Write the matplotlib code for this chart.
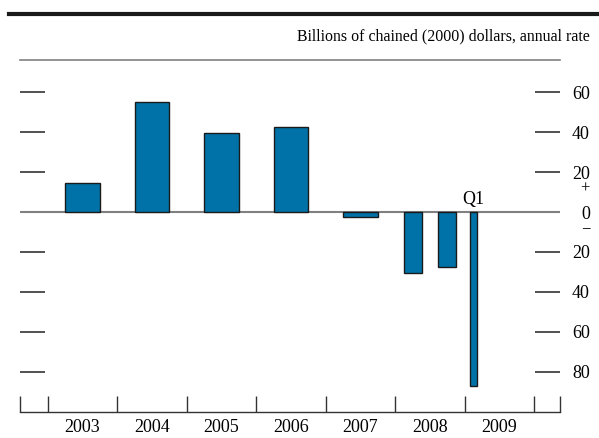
import matplotlib.pyplot as plt
from matplotlib.ticker import FixedLocator

plt.rcParams["font.family"] = ["Liberation Serif", "DejaVu Serif"]

years = ["2003", "2004", "2005", "2006", "2007", "2008", "2009"]
# annual bars (2003-2007)
annual_pos = [0.5, 1.5, 2.5, 3.5, 4.5]
annual_vals = [14.5, 55.0, 39.5, 42.5, -2.5]
# 2008 half-years
half_pos = [5.25, 5.75]
half_vals = [-30.5, -27.5]
# 2009 Q1
q_pos = [6.125]
q_vals = [-87.0]

yticks = [-80, -60, -40, -20, 0, 20, 40, 60]
ytick_labels = ["80", "60", "40", "20", "0", "20", "40", "60"]

bar_color = "#0072a8"
edge_color = "#1a1a1a"

fig = plt.figure(figsize=(5.99, 4.38), dpi=100)
ax = fig.add_axes([20 / 599, 26 / 438, 540 / 599, 352 / 438])

ax.bar(annual_pos, annual_vals, width=0.5, color=bar_color, edgecolor=edge_color, linewidth=1, zorder=3)
ax.bar(half_pos, half_vals, width=0.26, color=bar_color, edgecolor=edge_color, linewidth=1, zorder=3)
ax.bar(q_pos, q_vals, width=0.1, color=bar_color, edgecolor=edge_color, linewidth=1, zorder=3)

ax.axhline(0, color="#808080", linewidth=1.5, zorder=2)
ax.text(q_pos[0], 2, "Q1", ha="center", va="bottom", fontsize=13)

ax.set_xlim(-0.4, 7.37)
ax.set_ylim(-100, 76)

# spines
for s in ["left", "right"]:
    ax.spines[s].set_visible(False)
ax.spines["top"].set_color("#808080")
ax.spines["top"].set_linewidth(1.2)
ax.spines["bottom"].set_color("#333333")
ax.spines["bottom"].set_linewidth(1.0)

# x ticks: year boundaries, labels centered
ax.xaxis.set_major_locator(FixedLocator([-0.4, 0, 1, 2, 3, 4, 5, 6, 7, 7.37]))
ax.xaxis.set_minor_locator(FixedLocator([i + 0.5 for i in range(len(years))]))
ax.set_xticklabels([""] * 10)
ax.set_xticklabels(years, minor=True)
ax.tick_params(axis="x", which="major", direction="in", length=11.5, width=1, color="#333333")
ax.tick_params(axis="x", which="minor", length=0, pad=5, labelsize=13)

# y ticks: dashes both sides, labels on right
ax.set_yticks(yticks)
ax.set_yticklabels(ytick_labels)
ax.tick_params(axis="y", direction="in", length=18, width=1.2, color="#333333",
               left=True, right=True, labelleft=False, labelright=True, pad=21.6, labelsize=13)
for lab in ax.get_yticklabels():
    lab.set_ha("right")

# sign markers around zero
ax.text(1.0 + 30 / 540, 11.5, "+", transform=ax.get_yaxis_transform(), ha="right", va="center", fontsize=12)
ax.text(1.0 + 30 / 540, -8.5, "\u2212", transform=ax.get_yaxis_transform(), ha="right", va="center", fontsize=12)

# header
fig.add_artist(plt.Line2D([9 / 599, 1.0], [1 - 14 / 438, 1 - 14 / 438], color="#1a1a1a", linewidth=3))
fig.text(590 / 599, 1 - 36 / 438, "Billions of chained (2000) dollars, annual rate",
         ha="right", va="center", fontsize=11.4)

fig.savefig("out.png", dpi=100)
